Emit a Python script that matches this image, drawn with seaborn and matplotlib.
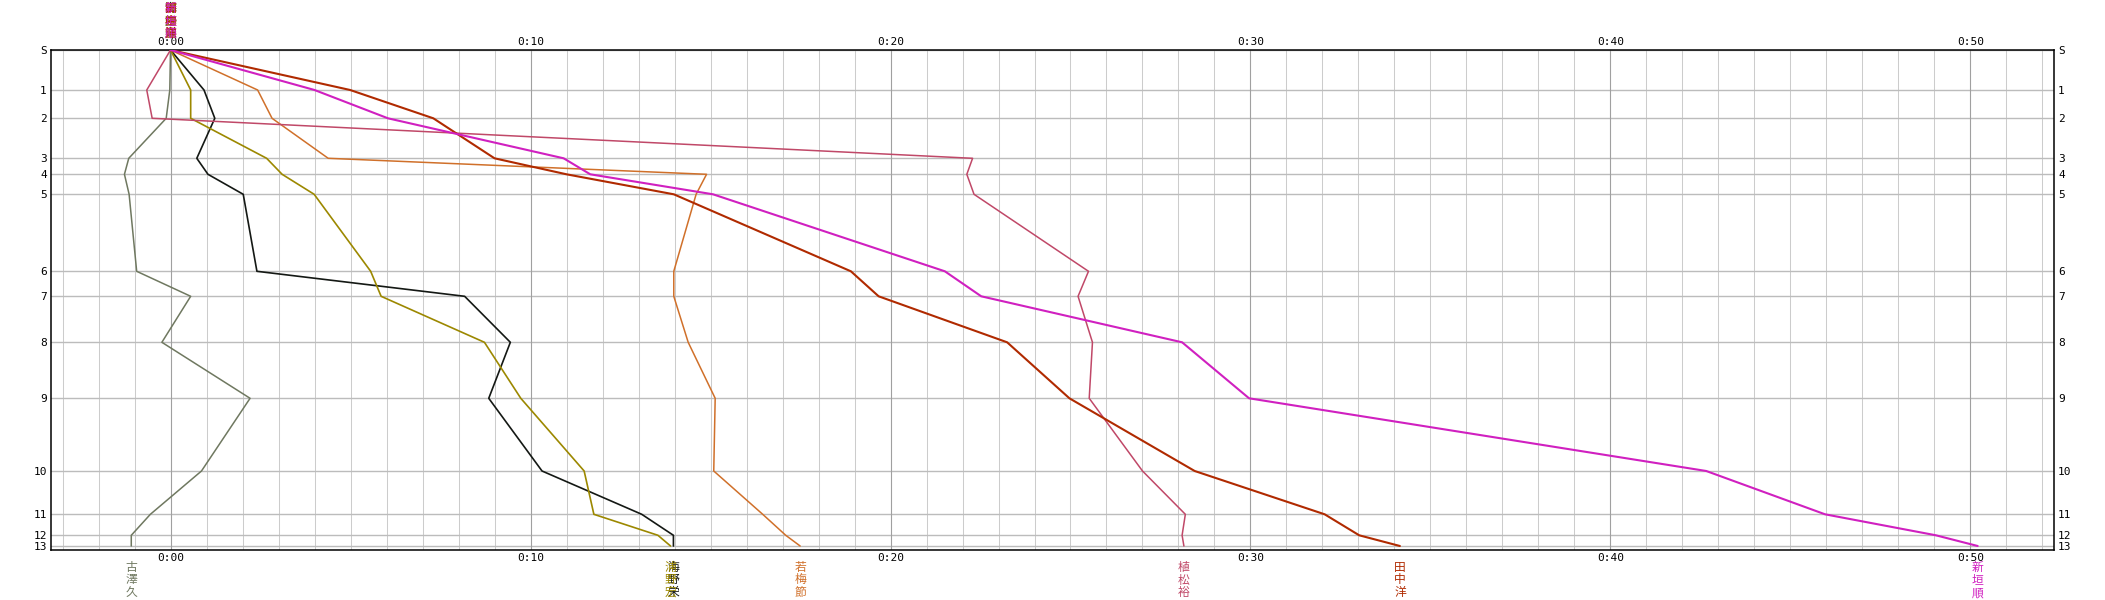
import matplotlib
matplotlib.use("Agg")
import matplotlib.pyplot as plt
import matplotlib.transforms as mtransforms
import numpy as np
import pandas as pd
import seaborn as sns

# ---------------- data ----------------
controls = ["S", "1", "2", "3", "4", "5", "6", "7", "8", "9", "10", "11", "12", "13"]
control_pos = [0, 40, 68.3, 108.3, 124.3, 144.3, 221.3, 246.3, 292.3, 348.3, 421, 464.3, 485.3, 496]

runners = ["古澤久", "海野栄", "浦野宏", "若梅節", "植松裕", "田中洋", "新垣順"]

furusawa = [0, -0.02, -0.12, -1.16, -1.28, -1.15, -0.94, 0.56, -0.24, 2.21, 0.86, -0.56, -1.09, -1.09]
unno = [0, 0.93, 1.23, 0.73, 1.04, 2.02, 2.40, 8.17, 9.44, 8.84, 10.32, 13.09, 13.97, 13.97]
urano = [0, 0.56, 0.56, 2.67, 3.10, 3.99, 5.56, 5.85, 8.72, 9.73, 11.49, 11.76, 13.54, 13.89]
wakaume = [0, 2.42, 2.82, 4.38, 14.89, 14.60, 13.98, 13.98, 14.38, 15.13, 15.09, 16.45, 17.09, 17.49]
uematsu = [0, -0.66, -0.51, 22.28, 22.12, 22.32, 25.50, 25.21, 25.61, 25.52, 27.00, 28.19, 28.10, 28.15]
tanaka = [0, 4.99, 7.30, 9.00, 11.00, 13.98, 18.90, 19.67, 23.24, 24.97, 28.45, 32.06, 33.02, 34.15]
arakaki = [0, 4.00, 6.04, 10.92, 11.66, 15.07, 21.51, 22.52, 28.10, 29.96, 42.66, 45.96, 49.04, 50.20]

series = [furusawa, unno, urano, wakaume, uematsu, tanaka, arakaki]
colors = ["#6f7860", "#141814", "#9c8800", "#d0702a", "#c04868", "#b02a00", "#d020c0"]
widths = [1.1, 1.2, 1.2, 1.1, 1.1, 1.5, 1.5]

x_ticks = [0, 10, 20, 30, 40, 50]
x_ticklabels = ["0:00", "0:10", "0:20", "0:30", "0:40", "0:50"]

rows = []
for name, vals in zip(runners, series):
    for c, p, v in zip(controls, control_pos, vals):
        rows.append({"runner": name, "control": c, "pos": p, "time": v})
df = pd.DataFrame(rows)

# ---------------- figure ----------------
sns.set_theme(style="white")
plt.rcParams["font.family"] = ["DejaVu Sans", "Noto Sans CJK JP"]

W, H = 2105, 600
fig = plt.figure(figsize=(W / 100, H / 100), dpi=100)
ax = fig.add_axes([51 / W, 1 - 550 / H, (2054 - 51) / W, 500 / H])

xmin, xmax = -3.32, 52.32
ax.set_xlim(xmin, xmax)
ax.set_ylim(500, 0)

# grid
for m in range(-3, 53):
    if m % 10 == 0:
        ax.axvline(m, color="#a0a0a0", lw=0.8, zorder=1)
    else:
        ax.axvline(m, color="#cccccc", lw=0.75, zorder=0.5)
for p in control_pos:
    ax.axhline(p, color="#bcbcbc", lw=1.0, zorder=0.8)

# lines
for name, col, lw in zip(runners, colors, widths):
    sub = df[df["runner"] == name]
    sns.lineplot(data=sub, x="time", y="pos", sort=False, estimator=None,
                 color=col, lw=lw, ax=ax, zorder=3)

ax.set_xlabel("")
ax.set_ylabel("")

# ticks
ax.set_xticks(x_ticks)
ax.set_xticklabels(x_ticklabels)
ax.set_yticks(control_pos)
ax.set_yticklabels(controls)
ax.tick_params(axis="x", top=True, labeltop=True, bottom=True, labelbottom=True,
               length=0, pad=2.5, labelsize=8, colors="black")
ax.tick_params(axis="y", left=True, labelleft=True, right=True, labelright=True,
               length=0, pad=3, labelsize=8, colors="black")
for lab in ax.get_xticklabels() + ax.get_yticklabels():
    lab.set_family("DejaVu Sans Mono")

for s in ax.spines.values():
    s.set_color("black")
    s.set_linewidth(1.1)

# names
name_font = ["Noto Sans CJK JP", "DejaVu Sans"]
trans_bottom = mtransforms.blended_transform_factory(ax.transData, fig.transFigure)
for name, vals, col in zip(runners, series, colors):
    ax.text(vals[-1], 1 - 561 / H, "\n".join(name), transform=trans_bottom,
            ha="center", va="top", fontsize=8.5, linespacing=0.95, color=col,
            family=name_font, clip_on=False)
    ax.text(vals[0], 1 - 2 / H, "\n".join(name), transform=trans_bottom,
            ha="center", va="top", fontsize=8.5, linespacing=0.95, color=col,
            family=name_font, clip_on=False)

fig.savefig("out.png", dpi=100, facecolor="white")
